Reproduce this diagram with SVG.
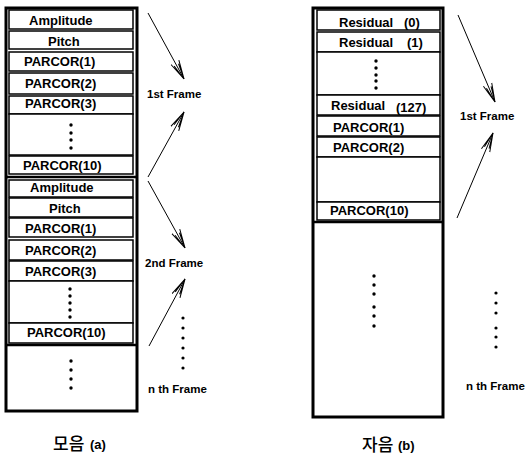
<svg xmlns="http://www.w3.org/2000/svg" width="527" height="455" viewBox="0 0 527 455">
<style>
.outer{fill:#fff;stroke:#000;stroke-width:3}
.row{fill:#fff;stroke:#000;stroke-width:1.5}
.thick{stroke:#000;stroke-width:2.5}
.t{font-family:"Liberation Sans",Arial,sans-serif;font-weight:bold;font-size:13px;fill:#000}
.lab{font-family:"Liberation Sans",Arial,sans-serif;font-weight:bold;font-size:11.5px;fill:#000}
.capk{font-family:"Noto Sans CJK KR",sans-serif;font-size:17px;font-weight:500;fill:#000}
.sm{font-family:"Liberation Sans",Arial,sans-serif;font-weight:bold;font-size:13px;fill:#000}
.arr{stroke:#000;stroke-width:1;fill:none;marker-end:url(#ah)}
.dot{fill:#000}
</style>
<defs>
<marker id="ah" viewBox="0 0 20 12" refX="19" refY="6" markerWidth="20" markerHeight="12" markerUnits="userSpaceOnUse" orient="auto">
<path d="M0,1.5 L19,6 L0,10.5 M3,3.5 L19,6 L3,8.5" fill="none" stroke="#000" stroke-width="1"/>
</marker>
</defs>
<rect width="527" height="455" fill="#fff"/>

<g id="column-a">
<rect class="outer" x="6" y="8" width="131" height="403"/>
<rect class="row" x="9" y="10" width="124" height="19"/>
<rect class="row" x="9" y="31" width="124" height="18"/>
<rect class="row" x="9" y="52" width="124" height="19"/>
<rect class="row" x="9" y="73" width="124" height="21"/>
<rect class="row" x="9" y="96" width="124" height="18"/>
<rect class="row" x="9" y="114" width="124" height="41"/>
<rect class="row" x="9" y="156" width="124" height="18"/>
<line class="thick" x1="6" y1="177" x2="137" y2="177"/>
<rect class="row" x="9" y="180" width="124" height="17"/>
<rect class="row" x="9" y="198" width="124" height="19"/>
<rect class="row" x="9" y="218" width="124" height="19"/>
<rect class="row" x="9" y="240" width="124" height="20"/>
<rect class="row" x="9" y="261" width="124" height="20"/>
<rect class="row" x="9" y="281" width="124" height="42"/>
<rect class="row" x="9" y="323" width="124" height="20"/>
<line class="thick" x1="6" y1="345" x2="137" y2="345"/>
<text class="t" x="29" y="25">Amplitude</text>
<text class="t" x="48" y="46">Pitch</text>
<text class="t" x="24" y="66">PARCOR(1)</text>
<text class="t" x="25" y="88">PARCOR(2)</text>
<text class="t" x="25" y="108">PARCOR(3)</text>
<circle class="dot" cx="71" cy="125" r="1.7"/>
<circle class="dot" cx="71" cy="133" r="1.7"/>
<circle class="dot" cx="71" cy="140" r="1.7"/>
<circle class="dot" cx="71" cy="148" r="1.7"/>
<text class="t" x="23" y="170">PARCOR(10)</text>
<text class="t" x="30" y="192">Amplitude</text>
<text class="t" x="49" y="213">Pitch</text>
<text class="t" x="25" y="233">PARCOR(1)</text>
<text class="t" x="25" y="255">PARCOR(2)</text>
<text class="t" x="25" y="276">PARCOR(3)</text>
<circle class="dot" cx="70" cy="289" r="1.7"/>
<circle class="dot" cx="70" cy="296" r="1.7"/>
<circle class="dot" cx="70" cy="303" r="1.7"/>
<circle class="dot" cx="70" cy="310" r="1.7"/>
<circle class="dot" cx="70" cy="317" r="1.7"/>
<text class="t" x="27" y="337">PARCOR(10)</text>
<circle class="dot" cx="71" cy="361" r="1.7"/>
<circle class="dot" cx="71" cy="370" r="1.7"/>
<circle class="dot" cx="71" cy="379" r="1.7"/>
<circle class="dot" cx="71" cy="388" r="1.7"/>
</g>

<g id="column-b">
<rect class="outer" x="313" y="8" width="130" height="409"/>
<rect class="row" x="317" y="10" width="123" height="20"/>
<rect class="row" x="317" y="32" width="123" height="20"/>
<rect class="row" x="317" y="52" width="123" height="43"/>
<rect class="row" x="317" y="95" width="123" height="20"/>
<rect class="row" x="317" y="116" width="123" height="20"/>
<rect class="row" x="317" y="137" width="123" height="20"/>
<rect class="row" x="317" y="157" width="123" height="45"/>
<rect class="row" x="317" y="202" width="123" height="18"/>
<line class="thick" x1="313" y1="222" x2="443" y2="222"/>
<text class="t" x="339" y="27">Residual</text>
<text class="t" x="404" y="27">(0)</text>
<text class="t" x="339" y="47">Residual</text>
<text class="t" x="407" y="47">(1)</text>
<circle class="dot" cx="376" cy="61" r="1.7"/>
<circle class="dot" cx="376" cy="68" r="1.7"/>
<circle class="dot" cx="376" cy="75" r="1.7"/>
<circle class="dot" cx="376" cy="81" r="1.7"/>
<circle class="dot" cx="376" cy="88" r="1.7"/>
<text class="t" x="331" y="110">Residual</text>
<text class="t" x="396" y="112">(127)</text>
<text class="t" x="333" y="132">PARCOR(1)</text>
<text class="t" x="333" y="152">PARCOR(2)</text>
<text class="t" x="330" y="215">PARCOR(10)</text>
<circle class="dot" cx="374" cy="276" r="1.7"/>
<circle class="dot" cx="374" cy="285" r="1.7"/>
<circle class="dot" cx="374" cy="294" r="1.7"/>
<circle class="dot" cx="374" cy="307" r="1.7"/>
<circle class="dot" cx="374" cy="316" r="1.7"/>
<circle class="dot" cx="374" cy="326" r="1.7"/>
</g>

<g id="connectors">
<line class="arr" x1="148" y1="13" x2="184" y2="79"/>
<line class="arr" x1="148" y1="177" x2="184" y2="112"/>
<line class="arr" x1="148" y1="181" x2="185" y2="248"/>
<line class="arr" x1="149" y1="346" x2="185" y2="279"/>
<line class="arr" x1="458" y1="15" x2="495" y2="102"/>
<line class="arr" x1="457" y1="218" x2="493" y2="133"/>
</g>

<g id="labels">
<text class="lab" x="147" y="98">1st Frame</text>
<text class="lab" x="145" y="267">2nd Frame</text>
<circle class="dot" cx="183" cy="318" r="1.6"/>
<circle class="dot" cx="183" cy="328" r="1.6"/>
<circle class="dot" cx="183" cy="338" r="1.6"/>
<circle class="dot" cx="183" cy="348" r="1.6"/>
<circle class="dot" cx="183" cy="358" r="1.6"/>
<circle class="dot" cx="183" cy="368" r="1.6"/>
<text class="lab" x="148" y="393">n th Frame</text>
<text class="lab" x="460" y="120">1st Frame</text>
<circle class="dot" cx="496" cy="293" r="1.6"/>
<circle class="dot" cx="496" cy="303" r="1.6"/>
<circle class="dot" cx="496" cy="313" r="1.6"/>
<circle class="dot" cx="496" cy="328" r="1.6"/>
<circle class="dot" cx="496" cy="337" r="1.6"/>
<circle class="dot" cx="496" cy="347" r="1.6"/>
<text class="lab" x="466" y="390">n th Frame</text>
<text class="capk" x="53" y="450">모음</text>
<text class="sm" x="90" y="449">(a)</text>
<text class="capk" x="362" y="451">자음</text>
<text class="sm" x="398" y="450">(b)</text>
</g>
</svg>
